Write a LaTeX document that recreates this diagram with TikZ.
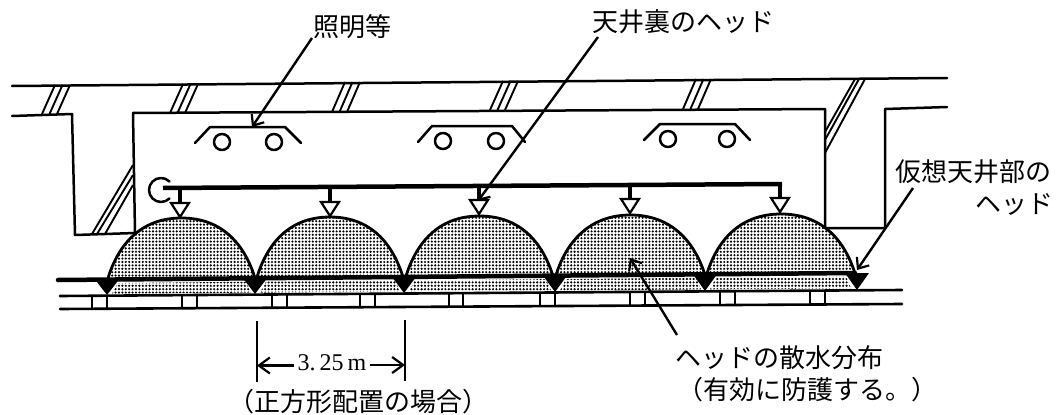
\documentclass[tikz,border=0pt]{standalone}
\usepackage{fontspec}
\setmainfont{Liberation Serif}
\newfontfamily\jpfont{Noto Sans CJK JP}
\usetikzlibrary{arrows.meta,patterns.meta}
\tikzset{
  wall/.style={line width=2.5pt,line join=round,line cap=round},
  thinl/.style={line width=1.9pt},
  leader/.style={line width=2.4pt,-{Straight Barb[length=9pt,width=15pt,line width=2.2pt]}},
  dimline/.style={line width=2.2pt},
  dimarrow/.style={line width=2.2pt,-{Straight Barb[length=11pt,width=16pt,line width=2.2pt]}},
  stipple/.style={pattern={Dots[radius=1.2pt,distance=3.4pt]},pattern color=black},
  jp/.style={font=\jpfont\fontsize{26}{26}\selectfont,inner sep=0pt,anchor=west},
}
\begin{document}
\begin{tikzpicture}[x=1pt,y=-1pt]
\useasboundingbox (0,0) rectangle (1058,415);
% building lines
\draw[wall] (12,86) -- (947,78);
\draw[wall] (12,116) -- (72,114) -- (75,235) -- (135,233) -- (133,113) -- (825,109) -- (825,228) -- (885,228) -- (885,109) -- (947,107);
% hatches
\foreach \xa/\ya/\xb/\yb in {42/114/55/85,170/113/183/84,332/112/345/82,490/110/503/81,683/109/696/79}{
  \foreach \d in {0,7.5,15}{
    \draw[thinl] (\xa+\d,\ya) -- (\xb+\d,\yb);
  }
}
\draw[thinl] (92,234) -- (133,165);
\draw[thinl] (97,234) -- (133,175);
\draw[thinl] (105,234) -- (133,185);
\draw[thinl] (855,79) -- (825,132);
\draw[thinl] (859,79) -- (825,140);
\draw[thinl] (865,79) -- (825,153);
% lamps
\foreach \a/\b/\c/\d/\y/\ca/\cb in {195/210/285/301/127/222/274,418/432/512/525/126/443/496,644/660/735/750/124/668/727}{
  \draw[wall] (\a,\y+16) -- (\b,\y) -- (\c,\y) -- (\d,\y+16);
  \draw[wall] (\ca,\y+15) circle[radius=8pt];
  \draw[wall] (\cb,\y+15) circle[radius=8pt];
}
% lower ceiling lines
\draw[line width=2.6pt,line cap=round] (60,296) -- (902,290);
\draw[line width=2.6pt,line cap=round] (60,309) -- (902,304);
\foreach \x in {92,107,182,197,272,287,360,375,449,463,540,555,630,645,720,735,810,825}{
  \pgfmathsetmacro{\ytop}{296-(\x-60)*6/842}
  \pgfmathsetmacro{\ybot}{309-(\x-60)*5/842}
  \draw[line width=2.4pt] (\x,\ytop) -- (\x,\ybot);
}
% domes
\foreach \l/\r/\ap/\bs in {108/255/218/278,257/403/217/277,406/553/216/276,556/705/215/275,707/855/214/273.5}{
  \pgfmathsetmacro{\cx}{(\l+\r)/2}
  \def\domepath{(\l,\bs) .. controls (\l+10,\bs-32) and (\cx-42,\ap) .. (\cx,\ap) .. controls (\cx+42,\ap) and (\r-10,\bs-32) .. (\r,\bs)}
  \fill[white] \domepath -- cycle;
  \fill[stipple] \domepath -- cycle;
  \draw[line width=2.8pt] \domepath;
}
% lower stipple bands
\foreach \l/\r in {107/255,255/404,404/555,555/705,705/855}{
  \pgfmathsetmacro{\ytl}{283.5-(\l-58)*7/797}
  \pgfmathsetmacro{\ytr}{283.5-(\r-58)*7/797}
  \pgfmathsetmacro{\ybl}{294-(\l-60)*6/842}
  \pgfmathsetmacro{\ybr}{294-(\r-60)*6/842}
  \fill[stipple] (\l+11,\ytl) -- (\r-9,\ytr) -- (\r-4,\ybr) -- (\l+5,\ybl) -- cycle;
}
% thick line
\draw[line width=4.5pt,line cap=round] (58,280) -- (855,273);
% black heads
\foreach \x/\y/\z in {107/279.5/295,255/278.3/294,404/277/293,555/275.6/292,705/274.3/291,857/273/290}{
  \fill (\x-12,\y) -- (\x+12,\y) -- (\x,\z) -- cycle;
}
% pipe
\draw[line width=4.5pt] (163,188) -- (782,184);
\draw[wall] (169.5,181.5) arc[start angle=45,end angle=315,radius=12pt];
\foreach \x/\t/\ya in {180/203/187,330/202/186,479/200/186,630/199/185,780/198/184}{
  \draw[line width=4.5pt] (\x,\ya) -- (\x,\t);
  \draw[line width=2.2pt,fill=white,line join=miter] (\x-9,\t) -- (\x+9,\t) -- (\x,\t+14) -- cycle;
}
% labels
\node[jp] (lamp) at (313,27) {照明等};
\node[jp] (hd) at (592,22) {天井裏のヘッド};
\node[jp] (vc) at (895,172) {仮想天井部の};
\node[jp] (vc2) at (975,204) {ヘッド};
\node[jp] (dist) at (675,358) {ヘッドの散水分布};
\node[jp] (prot) at (677,390) {（有効に防護する。）};
\node[jp] (sq) at (228,402) {（正方形配置の場合）};
\node[inner sep=0pt,font=\fontsize{24}{24}\selectfont] (dimt) at (332,363) {3.\,25\,m};
% leaders
\coordinate (lampA) at (312,38);
\coordinate (lampB) at (252,127);
\coordinate (hdA) at (598,37);
\coordinate (hdB) at (478,201);
\coordinate (vcA) at (913,188);
\coordinate (vcB) at (857,270);
\coordinate (distA) at (677,335);
\coordinate (distB) at (630,258);
\draw[leader] (lampA) -- (lampB);
\draw[leader] (hdA) -- (hdB);
\draw[leader] (vcA) -- (vcB);
\draw[leader] (distA) -- (distB);
% dimension
\coordinate (d1a) at (257,321);
\coordinate (d1b) at (257,382);
\coordinate (d2a) at (405,320);
\coordinate (d2b) at (405,381);
\coordinate (aL) at (257,365.5);
\coordinate (aR) at (405,365);
\draw[dimline] (d1a) -- (d1b);
\draw[dimline] (d2a) -- (d2b);
\draw[dimarrow] (dimt.west |- aL) ++(-3,0) -- (aL);
\draw[dimarrow] (dimt.east |- aR) ++(3,0) -- (aR);
\end{tikzpicture}
\end{document}
